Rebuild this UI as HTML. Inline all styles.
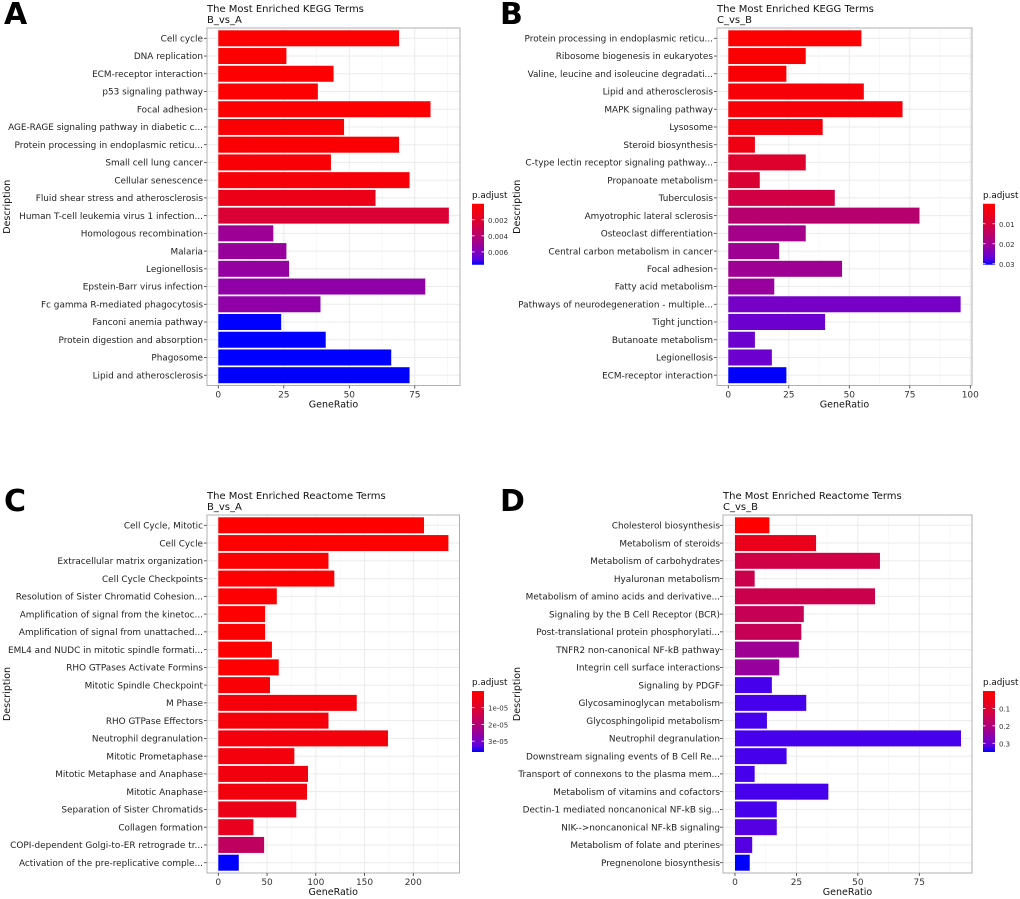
<!DOCTYPE html>
<html><head><meta charset="utf-8"><style>
body{margin:0;background:#fff}
svg{display:block;font-family:"DejaVu Sans","Liberation Sans",sans-serif}
</style></head><body>
<svg id="fig" width="1020" height="899" viewBox="0 0 1020 899" xmlns="http://www.w3.org/2000/svg"></svg>
<script>
const catsA=["Cell cycle","DNA replication","ECM-receptor interaction","p53 signaling pathway","Focal adhesion","AGE-RAGE signaling pathway in diabetic c...","Protein processing in endoplasmic reticu...","Small cell lung cancer","Cellular senescence","Fluid shear stress and atherosclerosis","Human T-cell leukemia virus 1 infection...","Homologous recombination","Malaria","Legionellosis","Epstein-Barr virus infection","Fc gamma R-mediated phagocytosis","Fanconi anemia pathway","Protein digestion and absorption","Phagosome","Lipid and atherosclerosis"];
const valsA=[69,26,44,38,81,48,69,43,73,60,88,21,26,27,79,39,24,41,66,73];
const padjA=[0.0001,0.0001,0.0001,0.0002,0.0002,0.0003,0.0003,0.0004,0.0005,0.0012,0.0022,0.005,0.0052,0.0053,0.0055,0.0055,0.0076,0.0076,0.0076,0.0076];
const ticksA=[0,25,50,75];
const legA=[0.002,0.004,0.006];

const catsB=["Protein processing in endoplasmic reticu...","Ribosome biogenesis in eukaryotes","Valine, leucine and isoleucine degradati...","Lipid and atherosclerosis","MAPK signaling pathway","Lysosome","Steroid biosynthesis","C-type lectin receptor signaling pathway...","Propanoate metabolism","Tuberculosis","Amyotrophic lateral sclerosis","Osteoclast differentiation","Central carbon metabolism in cancer","Focal adhesion","Fatty acid metabolism","Pathways of neurodegeneration - multiple...","Tight junction","Butanoate metabolism","Legionellosis","ECM-receptor interaction"];
const valsB=[55,32,24,56,72,39,11,32,13,44,79,32,21,47,19,96,40,11,18,24];
const padjB=[0.0005,0.001,0.0015,0.002,0.002,0.003,0.004,0.008,0.009,0.011,0.016,0.019,0.020,0.020,0.021,0.025,0.026,0.026,0.026,0.0305];
const ticksB=[0,25,50,75,100];
const legB=[0.01,0.02,0.03];

const catsC=["Cell Cycle, Mitotic","Cell Cycle","Extracellular matrix organization","Cell Cycle Checkpoints","Resolution of Sister Chromatid Cohesion...","Amplification of signal from the kinetoc...","Amplification  of signal from unattached...","EML4 and NUDC in mitotic spindle formati...","RHO GTPases Activate Formins","Mitotic Spindle Checkpoint","M Phase","RHO GTPase Effectors","Neutrophil degranulation","Mitotic Prometaphase","Mitotic Metaphase and Anaphase","Mitotic Anaphase","Separation of Sister Chromatids","Collagen formation","COPI-dependent Golgi-to-ER retrograde tr...","Activation of the pre-replicative comple..."];
const valsC=[211,236,113,119,60,48,48,55,62,53,142,113,174,78,92,91,80,36,47,21];
const padjC=[0.0e-5,0.0e-5,0.1e-5,0.1e-5,0.1e-5,0.1e-5,0.1e-5,0.1e-5,0.1e-5,0.2e-5,0.3e-5,0.3e-5,0.35e-5,0.35e-5,0.4e-5,0.4e-5,0.6e-5,0.7e-5,1.7e-5,3.65e-5];
const ticksC=[0,50,100,150,200];
const legC=[1e-5,2e-5,3e-5];
const legCLab=["1e-05","2e-05","3e-05"];

const catsD=["Cholesterol biosynthesis","Metabolism of steroids","Metabolism of carbohydrates","Hyaluronan metabolism","Metabolism of amino acids and derivative...","Signaling by the B Cell Receptor (BCR)","Post-translational protein phosphorylati...","TNFR2 non-canonical NF-kB pathway","Integrin cell surface interactions","Signaling by PDGF","Glycosaminoglycan metabolism","Glycosphingolipid metabolism","Neutrophil degranulation","Downstream signaling events of B Cell Re...","Transport of connexons to the plasma mem...","Metabolism of vitamins and cofactors","Dectin-1 mediated noncanonical NF-kB sig...","NIK-->noncanonical NF-kB signaling","Metabolism of folate and pterines","Pregnenolone biosynthesis"];
const valsD=[14,33,59,8,57,28,27,26,18,15,29,13,92,21,8,38,17,17,7,6];
const padjD=[0.0,0.06,0.13,0.14,0.14,0.15,0.15,0.23,0.24,0.33,0.33,0.33,0.33,0.33,0.33,0.33,0.33,0.32,0.32,0.35];
const ticksD=[0,25,50,75];
const legD=[0.1,0.2,0.3];

const NS="http://www.w3.org/2000/svg";
const svg=document.getElementById('fig');
function mk(tag,attrs,parent,txt){const e=document.createElementNS(NS,tag);for(const k in attrs)e.setAttribute(k,attrs[k]);if(txt!==undefined)e.textContent=txt;(parent||svg).appendChild(e);return e;}
function col(t){t=Math.max(0,Math.min(1,t));
  const r=Math.round(255*Math.pow(1-t,0.45));
  const b=Math.round(255*Math.pow(t,1.3));
  return `rgb(${r},0,${b})`;}

function panel(cfg){
  const g=mk('g',{});
  
  
  const L=mk('text',{x:cfg.lx,y:cfg.ly,'font-size':30,'font-weight':'bold',fill:'#000'},g,cfg.letter);
  
  const t1=mk('text',{x:cfg.x0,y:cfg.y0-16,'font-size':10,fill:'#111'},g,cfg.title);
  
  const t2=mk('text',{x:cfg.x0,y:cfg.y0-5,'font-size':10,fill:'#111'},g,cfg.sub);
  
  const xs=v=>cfg.zero+v*cfg.k;
  const n=cfg.cats.length;
  const ys=i=>cfg.y0+10.3+i*(cfg.y1-cfg.y0-20.6)/(n-1);
  for(let i=0;i<cfg.ticks.length;i++){
    const mid=cfg.ticks[i]+(cfg.ticks[1]-cfg.ticks[0])/2;
    if(xs(mid)<cfg.x1) mk('line',{x1:xs(mid),x2:xs(mid),y1:cfg.y0,y2:cfg.y1,stroke:'#f4f4f4','stroke-width':0.6},g);
  }
  cfg.ticks.forEach(v=>mk('line',{x1:xs(v),x2:xs(v),y1:cfg.y0,y2:cfg.y1,stroke:'#ebebeb','stroke-width':1},g));
  cfg.cats.forEach((c,i)=>mk('line',{x1:cfg.x0,x2:cfg.x1,y1:ys(i),y2:ys(i),stroke:'#ebebeb','stroke-width':1},g));
  cfg.cats.forEach((c,i)=>{
    const b=mk('rect',{x:xs(0),y:ys(i)-8,width:Math.max(0,xs(cfg.vals[i])-xs(0)),height:16,fill:col((cfg.padj[i]-cfg.pmin)/(cfg.pmax-cfg.pmin))},g);
    
    
    const lb=mk('text',{x:cfg.lr,y:ys(i)+3.2,'font-size':8.9,'text-anchor':'end',fill:'#222'},g,c);
    
    
    mk('line',{x1:cfg.x0-3,x2:cfg.x0,y1:ys(i),y2:ys(i),stroke:'#333','stroke-width':0.8},g);
  });
  mk('rect',{x:cfg.x0,y:cfg.y0,width:cfg.x1-cfg.x0,height:cfg.y1-cfg.y0,fill:'none',stroke:'#b0b0b0','stroke-width':1},g);
  cfg.ticks.forEach(v=>{
    mk('line',{x1:xs(v),x2:xs(v),y1:cfg.y1,y2:cfg.y1+3,stroke:'#333','stroke-width':0.8},g);
    const tl=mk('text',{x:xs(v),y:cfg.y1+12,'font-size':9,'text-anchor':'middle',fill:'#333'},g,String(v));
    
    
  });
  const xt=mk('text',{x:(cfg.x0+cfg.x1)/2,y:cfg.y1+22,'font-size':9.5,'text-anchor':'middle',fill:'#111'},g,'GeneRatio');
  
  const cy=(cfg.y0+cfg.y1)/2;
  const yt=mk('text',{x:cfg.dx,y:cy,'font-size':9.5,'text-anchor':'middle',fill:'#111',transform:`rotate(-90 ${cfg.dx} ${cy})`},g,'Description');
  
  const lg=mk('g',{},g);
  
  const by0=cy-3, by1=cy+58;
  mk('text',{x:cfg.gx,y:by0-6,'font-size':8.8,fill:'#111'},lg,'p.adjust');
  const gid='grad'+cfg.letter;
  const defs=mk('defs',{},lg);const gr=mk('linearGradient',{id:gid,x1:0,y1:0,x2:0,y2:1},defs);
  for(let s=0;s<=10;s++)mk('stop',{offset:s/10,'stop-color':col(s/10)},gr);
  mk('rect',{x:cfg.gx,y:by0,width:12,height:by1-by0,fill:`url(#${gid})`},lg);
  cfg.leg.forEach((v,i)=>{
    const yy=by0+(v-cfg.pmin)/(cfg.pmax-cfg.pmin)*(by1-by0);
    mk('line',{x1:cfg.gx,x2:cfg.gx+2.5,y1:yy,y2:yy,stroke:'#fff','stroke-width':0.8},lg);
    mk('line',{x1:cfg.gx+9.5,x2:cfg.gx+12,y1:yy,y2:yy,stroke:'#fff','stroke-width':0.8},lg);
    mk('text',{x:cfg.gx+16,y:yy+3,'font-size':7,fill:'#333'},lg,cfg.legLab?cfg.legLab[i]:String(v));
  });
}
panel({name:'panel-a',letter:'A',lx:4,ly:24,title:'The Most Enriched KEGG Terms',sub:'B_vs_A',x0:207,x1:460,y0:28,y1:385.5,zero:218.3,k:2.62,cats:catsA,vals:valsA,padj:padjA,pmin:0,pmax:0.0076,ticks:ticksA,leg:legA,lr:203,dx:10,gx:472});
panel({name:'panel-b',letter:'B',lx:500,ly:24,title:'The Most Enriched KEGG Terms',sub:'C_vs_B',x0:717,x1:972,y0:28,y1:385.5,zero:728.3,k:2.42,cats:catsB,vals:valsB,padj:padjB,pmin:0,pmax:0.0305,ticks:ticksB,leg:legB,lr:713,dx:520,gx:983});
panel({name:'panel-c',letter:'C',lx:4,ly:511,title:'The Most Enriched Reactome Terms',sub:'B_vs_A',x0:207,x1:459.5,y0:515,y1:873,zero:218.3,k:0.975,cats:catsC,vals:valsC,padj:padjC,pmin:0,pmax:3.65e-5,ticks:ticksC,leg:legC,legLab:legCLab,lr:203,dx:10,gx:472});
panel({name:'panel-d',letter:'D',lx:500,ly:511,title:'The Most Enriched Reactome Terms',sub:'C_vs_B',x0:723,x1:972,y0:515,y1:873,zero:735,k:2.457,cats:catsD,vals:valsD,padj:padjD,pmin:0,pmax:0.35,ticks:ticksD,leg:legD,lr:720,dx:520,gx:983});
</script>
</body></html>
